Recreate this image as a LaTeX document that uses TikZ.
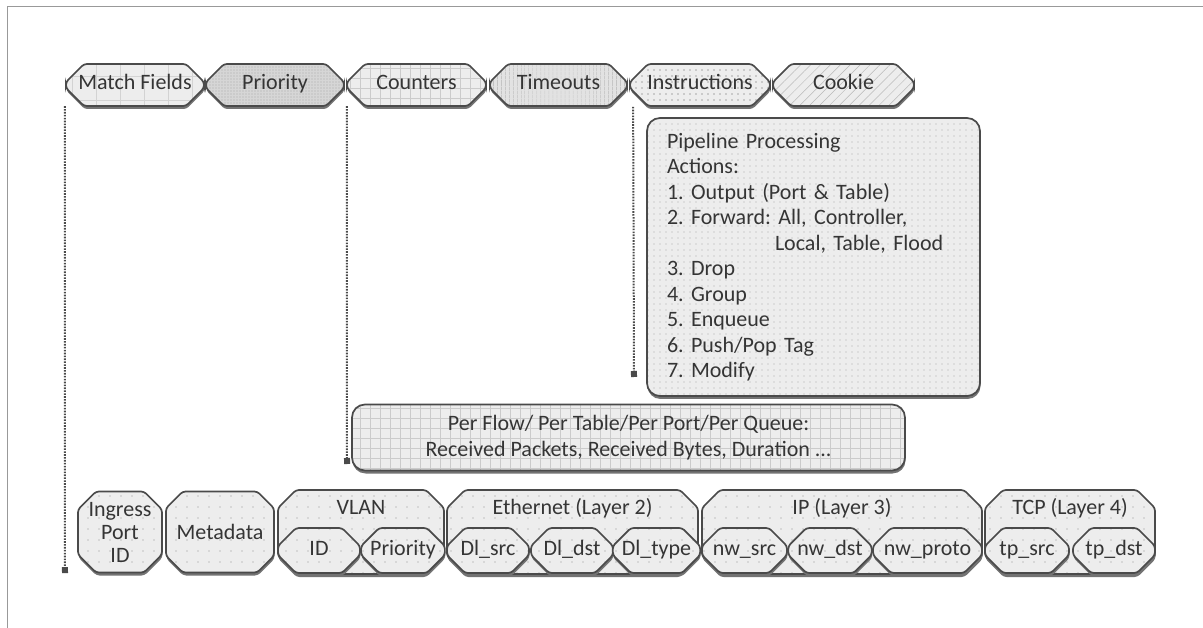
\documentclass[tikz,border=0pt]{standalone}
\usepackage{fontspec}
\setmainfont{Carlito}
\frenchspacing
\usetikzlibrary{shapes.misc,shadows,patterns.meta,arrows.meta}
\definecolor{txtc}{HTML}{353535}
\definecolor{edgec}{HTML}{4A4A4A}
\definecolor{patc}{HTML}{A8A8A8}
\definecolor{fa}{HTML}{EDEDED}
\definecolor{fb}{HTML}{D6D6D6}
\definecolor{fc}{HTML}{E2E2E2}
\tikzset{
  sh/.style={drop shadow={shadow xshift=0.5pt, shadow yshift=-3pt, fill=black!55, opacity=1}},
  oct/.style={chamfered rectangle, chamfered rectangle xsep=9pt, chamfered rectangle ysep=9pt,
    rounded corners=3pt, draw=edgec, line width=1.7pt, text=txtc,
    font=\fontsize{22}{26}\selectfont, inner sep=0pt, sh},
  one/.style={text height=15pt, text depth=5pt},
  topbox/.style={oct, one, minimum height=42pt},
  bfill/.style={preaction={fill=fa}, pattern={Dots[distance=11pt, radius=0.9pt]}, pattern color=patc!70},
  botbox/.style={oct, minimum height=81pt, align=center, bfill},
  grpbox/.style={oct, minimum height=81pt, text height=15pt, text depth=51pt, bfill},
  subbox/.style={oct, one, minimum height=45pt, bfill},
  bigbox/.style={rectangle, rounded corners=13pt, draw=edgec, line width=1.7pt, text=txtc,
    font=\fontsize{22}{25.5}\selectfont, sh},
  conn/.style={draw=edgec, line width=2pt, dash pattern=on 1.6pt off 1.3pt,
    -{Square[length=6pt,width=6pt]}},
}
\begin{document}
\begin{tikzpicture}[x=1pt,y=-1pt]
\useasboundingbox (0,0) rectangle (1203,628);
\fill[white] (0,0) rectangle (1203,628);
\draw[gray!80, line width=1pt] (7,628) -- (7,7) -- (1203,7);

% top row
\node[topbox, minimum width=138pt, preaction={fill=fa}, pattern={Hatch[distance=24pt, line width=0.4pt]}, pattern color=patc!50] (mf) at (135,85) {Match Fields};
\node[topbox, minimum width=138pt, preaction={fill=fb}, pattern={Dots[distance=3pt, radius=0.55pt]}, pattern color=patc] (pr) at (275,85) {Priority};
\node[topbox, minimum width=139pt, preaction={fill=fa}, pattern={Hatch[distance=10pt, line width=0.5pt]}, pattern color=patc!60] (ctr) at (416.5,85) {Counters};
\node[topbox, minimum width=137pt, preaction={fill=fc}, pattern={Lines[angle=90, distance=4pt, line width=0.7pt]}, pattern color=patc] (tmo) at (558.5,85) {Timeouts};
\node[topbox, minimum width=140pt, preaction={fill=fa}, pattern={Dots[distance=6pt, radius=0.8pt]}, pattern color=patc] (ins) at (700,85) {Instructions};
\node[topbox, minimum width=141pt, preaction={fill=fa}, pattern={Lines[angle=45, distance=7pt, line width=0.5pt]}, pattern color=patc!80] (ck) at (843.5,85) {Cookie};

% pipeline processing box
\node[bigbox, minimum width=333pt, minimum height=278pt, text width=293pt, align=left, inner xsep=20pt,
  preaction={fill=fa}, pattern={Dots[distance=6pt, radius=0.7pt]}, pattern color=patc] (pipe) at (813.5,257)
  {Pipeline Processing\\Actions:\\1. Output (Port \& Table)\\2. Forward: All, Controller,\\\hspace*{108pt}Local, Table, Flood\\3. Drop\\4. Group\\5. Enqueue\\6. Push/Pop Tag\\7. Modify};

% per flow box
\node[bigbox, minimum width=553pt, minimum height=66pt, align=center, inner sep=0pt,
  preaction={fill=fa}, pattern={Hatch[distance=10pt, line width=0.5pt]}, pattern color=patc!60] (pf) at (628.5,437.5)
  {Per Flow/ Per Table/Per Port/Per Queue:\\Received Packets, Received Bytes, Duration ...};

% bottom row
\node[botbox, minimum width=84pt, font=\fontsize{22}{23}\selectfont] (ing) at (120,532) {Ingress\\Port\\ID};
\node[botbox, minimum width=108pt] (meta) at (220,532) {Metadata};
\node[grpbox, minimum width=166pt] (vlan) at (361,532) {VLAN};
\node[grpbox, minimum width=251pt] (eth) at (572.5,532) {Ethernet (Layer 2)};
\node[grpbox, minimum width=280pt] (ip) at (842,532) {IP (Layer 3)};
\node[grpbox, minimum width=170pt] (tcp) at (1070,532) {TCP (Layer 4)};

\node[subbox, minimum width=82pt] (vid) at (319,550.5) {ID};
\node[subbox, minimum width=82pt] (vpr) at (403,550.5) {Priority};
\node[subbox, minimum width=82pt] (dsrc) at (488,550.5) {Dl\_src};
\node[subbox, minimum width=82pt] (ddst) at (572,550.5) {Dl\_dst};
\node[subbox, minimum width=83pt] (dtyp) at (656.5,550.5) {Dl\_type};
\node[subbox, minimum width=85pt] (nsrc) at (744.5,550.5) {nw\_src};
\node[subbox, minimum width=82pt] (ndst) at (830,550.5) {nw\_dst};
\node[subbox, minimum width=109pt] (npro) at (927.5,550.5) {nw\_proto};
\node[subbox, minimum width=84pt] (tsrc) at (1027,550.5) {tp\_src};
\node[subbox, minimum width=82pt] (tdst) at (1114,550.5) {tp\_dst};

% connectors
\coordinate (e1) at (65,573);
\coordinate (e2) at (347,464);
\coordinate (e3) at (634,377);
\draw[conn] ([xshift=-1pt]mf.west |- mf.south) -- (e1);
\draw[conn] (ctr.west |- ctr.south) -- (e2);
\draw[conn] ([xshift=4pt]ins.west |- ins.south) -- (e3);
\end{tikzpicture}
\end{document}
